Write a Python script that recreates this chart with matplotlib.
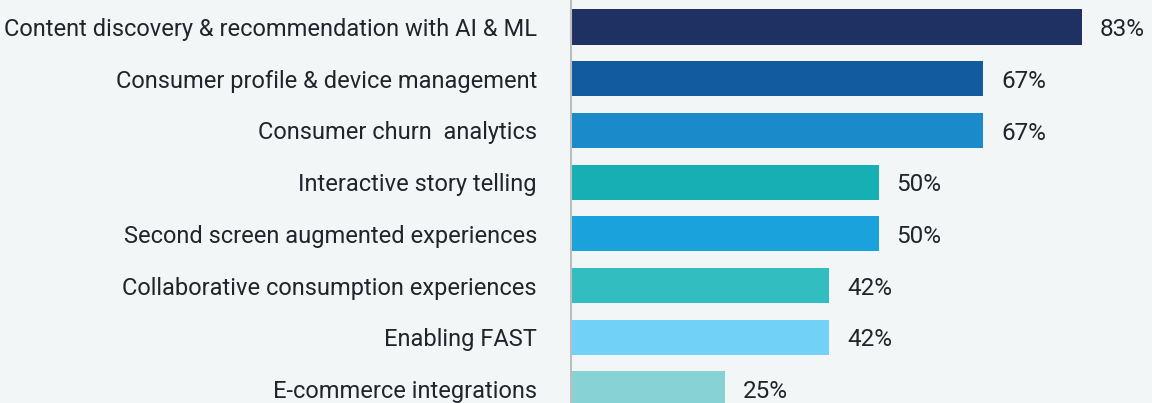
import matplotlib
matplotlib.use("Agg")
import matplotlib.pyplot as plt

# data
categories = [
    "Content discovery & recommendation with AI & ML",
    "Consumer profile & device management",
    "Consumer churn  analytics",
    "Interactive story telling",
    "Second screen augmented experiences",
    "Collaborative consumption experiences",
    "Enabling FAST",
    "E-commerce integrations",
]
values = [83, 67, 67, 50, 50, 42, 42, 25]
colors = ["#1F3163", "#115B9E", "#1A8ACB", "#16B0B4",
          "#19A2DB", "#32BEC1", "#72D1F6", "#87D2D3"]

bg = "#F3F6F7"
txt = "#23232B"
plt.rcParams['font.family'] = ['Roboto', 'DejaVu Sans']

fig = plt.figure(figsize=(11.52, 4.03), dpi=100, facecolor=bg)
ax = fig.add_axes([571/1152, 0, 1 - 571/1152, 1], facecolor=bg)

ypos = list(range(len(categories)))
ax.barh(ypos, values, height=0.68, color=colors, zorder=2)
for y, v in zip(ypos, values):
    ax.text(v + 2.9, y + 0.05, "%d%%" % v, va="center", ha="left",
            fontsize=17.5, color=txt)

ax.set_xlim(0, 94.4)
ax.set_ylim(7.27, -0.522)
ax.set_yticks(ypos)
ax.set_yticklabels(categories, fontsize=17, color=txt)
ax.tick_params(axis="y", length=0, pad=24.5)
ax.set_xticks([])
for s in ["top", "right", "bottom"]:
    ax.spines[s].set_visible(False)
ax.spines["left"].set_color("#BDBDBD")
ax.spines["left"].set_linewidth(1.5)
ax.spines["left"].set_zorder(3)

fig.savefig("out.png", dpi=100, facecolor=bg)
